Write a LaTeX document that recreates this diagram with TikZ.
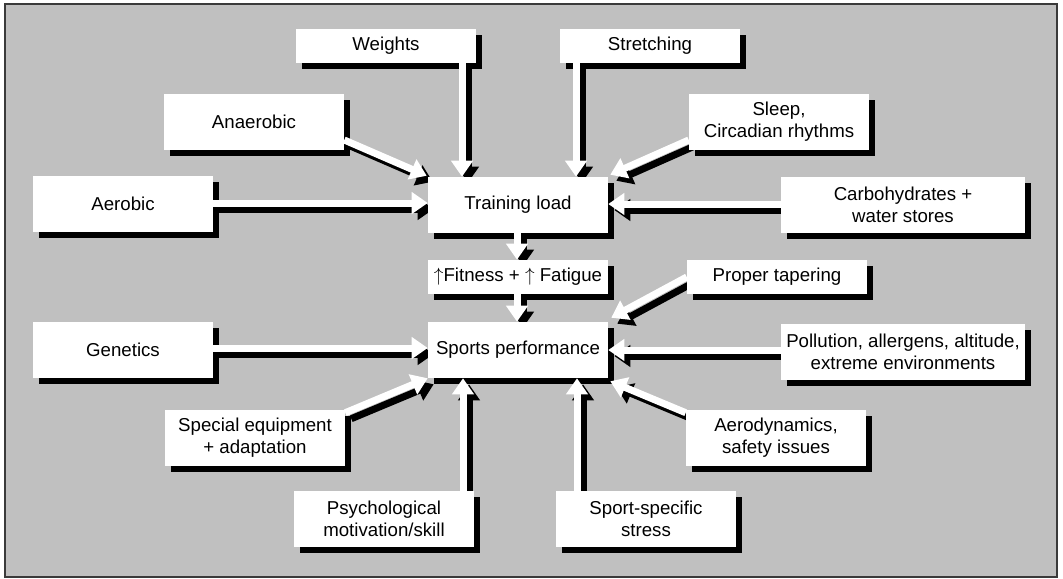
\documentclass[tikz,border=0pt]{standalone}
\usepackage{fontspec}
\setmainfont{Liberation Sans}
\usetikzlibrary{arrows.meta,calc}
\definecolor{panel}{HTML}{C0C0C0}
\definecolor{rim}{HTML}{3A3A3A}
\pgfdeclarelayer{back}
\pgfdeclarelayer{shade}
\pgfdeclarelayer{arrw}
\pgfsetlayers{back,shade,arrw,main}
\tikzset{
  box/.style={rectangle, fill=white, inner sep=0pt, align=center,
    minimum width=180*0.75pt, minimum height=56*0.75pt,
    font=\fontsize{14}{16.5}\selectfont},
  slim/.style={minimum height=34*0.75pt},
  wide/.style={minimum width=244*0.75pt},
  flowline/.style={line width=7*0.75pt,
    -{Triangle[width=21*0.75pt,length=16*0.75pt]}},
}
% white arrow with a black shadow offset down-right
\newcommand\flow[2]{%
  \begin{pgfonlayer}{shade}
    \draw[flowline, black, transform canvas={shift={(6,6)}}] #1 -- #2;
  \end{pgfonlayer}
  \begin{pgfonlayer}{arrw}
    \draw[flowline, white] #1 -- #2;
  \end{pgfonlayer}}
% black drop shadow behind a box
\newcommand\boxshadow[1]{%
  \begin{pgfonlayer}{shade}
    \fill[black] ([shift={(6,6)}]#1.north west) rectangle ([shift={(6,6)}]#1.south east);
  \end{pgfonlayer}}
\begin{document}
\begin{tikzpicture}[x=0.75pt, y=-0.75pt]
\begin{pgfonlayer}{back}
  \fill[white] (0,0) rectangle (1063,578);
  \draw[fill=panel, draw=rim, line width=1.2pt] (5,4) rectangle (1057,577);
\end{pgfonlayer}
\useasboundingbox (0,0) rectangle (1063,578);

% boxes
\node[box, slim] (weights) at (386,46) {Weights};
\node[box, slim] (stretch) at (650,46) {Stretching};
\node[box] (anaer) at (254,122) {Anaerobic};
\node[box] (sleep) at (779,122) {Sleep,\\Circadian rhythms};
\node[box] (aerob) at (123,204) {Aerobic};
\node[box] (train) at (518,205) {Training load};
\node[box, wide] (carbo) at (903,205) {Carbohydrates +\\water stores};
\node[box, slim] (fit) at (518,277) {$\uparrow$Fitness + $\uparrow$ Fatigue};
\node[box, slim] (taper) at (777,277) {Proper tapering};
\node[box] (perf) at (518,350) {Sports performance};
\node[box] (genet) at (123,350) {Genetics};
\node[box, wide] (pollu) at (903,352) {Pollution, allergens, altitude,\\extreme environments};
\node[box] (equip) at (255,438) {Special equipment\\+ adaptation};
\node[box] (aero) at (776,438) {Aerodynamics,\\safety issues};
\node[box] (psych) at (384,519) {Psychological\\motivation/skill};
\node[box] (stress) at (646,519) {Sport-specific\\stress};

\foreach \n in {weights,stretch,anaer,sleep,aerob,train,carbo,fit,taper,perf,genet,pollu,equip,aero,psych,stress}
  {\boxshadow{\n}}

% influences on training load
\flow{($(weights.south)+(76,0)$)}{($(train.north)+(-56,0)$)}
\flow{($(stretch.south)+(-74,0)$)}{($(train.north)+(58,0)$)}
\flow{($(anaer.east)+(0,18)$)}{($(train.north west)+(-1,-1)$)}
\flow{($(sleep.west)+(0,18)$)}{($(train.north east)+(2,-2)$)}
\flow{($(aerob.east)+(0,-1)$)}{($(train.west)+(0,-2)$)}
\flow{($(carbo.west)+(0,-1)$)}{($(train.east)+(0,-1)$)}

% chain to performance
\flow{($(train.south)+(-1,0)$)}{($(fit.north)+(-1,0)$)}
\flow{($(fit.south)+(-1,0)$)}{($(perf.north)+(-1,0)$)}

% influences on sports performance
\flow{(taper.west)}{($(perf.north east)+(3,-4)$)}
\flow{($(genet.east)+(0,-2)$)}{($(perf.west)+(0,-2)$)}
\flow{($(pollu.west)+(0,-2)$)}{(perf.east)}
\flow{($(equip.north east)+(0,3)$)}{($(perf.south west)+(0,0)$)}
\flow{($(aero.north west)+(0,3)$)}{($(perf.south east)+(2,3)$)}
\flow{($(psych.north)+(79,0)$)}{($(perf.south)+(-55,0)$)}
\flow{($(stress.north)+(-69,0)$)}{($(perf.south)+(59,0)$)}
\end{tikzpicture}
\end{document}
